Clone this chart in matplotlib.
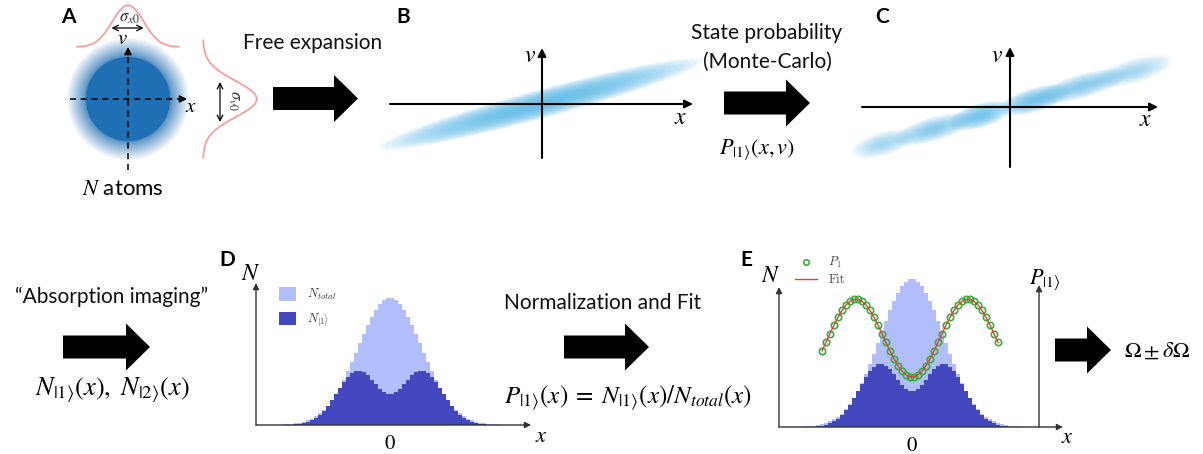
import numpy as np
import matplotlib
matplotlib.use('Agg')
import matplotlib.pyplot as plt
from matplotlib.patches import FancyArrow, Ellipse, Patch
from matplotlib.lines import Line2D
from matplotlib.font_manager import FontProperties

plt.rcParams['font.family'] = ['Lato', 'DejaVu Sans']
plt.rcParams['mathtext.fontset'] = 'stix'

W, H = 1203, 454

# ---------------- data ----------------
# marginal profile of panel A (relative height vs. offset in sigma)
profile_z = [-3.25, -3.0, -2.75, -2.5, -2.25, -2.0, -1.75, -1.5, -1.25, -1.0, -0.75, -0.5, -0.25,
             0.0, 0.25, 0.5, 0.75, 1.0, 1.25, 1.5, 1.75, 2.0, 2.25, 2.5, 2.75, 3.0, 3.25]
profile_g = [0.005, 0.011, 0.023, 0.044, 0.080, 0.135, 0.216, 0.325, 0.458, 0.607, 0.755, 0.882, 0.969,
             1.000, 0.969, 0.882, 0.755, 0.607, 0.458, 0.325, 0.216, 0.135, 0.080, 0.044, 0.023, 0.011, 0.005]

# panel A cloud: solid core radius and outer fringe radius (in sigma)
cloud_a_core, cloud_a_outer = 2.1, 3.05

# panel B band: sigma along / across the band (axis units) and slope dv/dx
band_sig_along, band_sig_across, band_slope = 0.58, 0.05, 0.27

# panel C: |1> selected clusters along the band (centre x, half-length, weight)
clus_x = [-1.27, -0.77, -0.30, 0.25, 0.72, 1.23]
clus_len = [0.22, 0.28, 0.22, 0.25, 0.32, 0.28]
clus_w = [0.45, 0.7, 1.0, 1.0, 0.7, 0.45]
c_slope = 0.29

# histograms (x in units of sigma)
hist_start, hist_stop, hist_nbins = -3.75, 3.75, 60
n_total = [0.1, 0.2, 0.3, 0.4, 0.6, 0.9, 1.3, 1.9, 2.7, 3.8, 5.1, 6.9, 9.1, 11.9, 15.3, 19.3, 24.1, 29.5,
           35.6, 42.3, 49.4, 56.9, 64.4, 71.9, 79.0, 85.4, 90.9, 95.2, 98.3, 99.8,
           99.8, 98.3, 95.2, 90.9, 85.4, 79.0, 71.9, 64.4, 56.9, 49.4, 42.3, 35.6, 29.5, 24.1, 19.3,
           15.3, 11.9, 9.1, 6.9, 5.1, 3.8, 2.7, 1.9, 1.3, 0.9, 0.6, 0.4, 0.3, 0.2, 0.1]
n_1 = [0.0, 0.0, 0.1, 0.1, 0.2, 0.3, 0.5, 0.9, 1.6, 2.5, 3.8, 5.7, 8.1, 11.2, 15.0, 19.3, 24.1, 28.9,
       33.5, 37.6, 40.6, 42.4, 42.7, 41.5, 39.0, 35.7, 31.9, 28.4, 25.7, 24.2,
       24.2, 25.7, 28.4, 31.9, 35.7, 39.0, 41.5, 42.7, 42.4, 40.6, 37.6, 33.5, 28.9, 24.1, 19.3,
       15.0, 11.2, 8.1, 5.7, 3.8, 2.5, 1.6, 0.9, 0.5, 0.3, 0.2, 0.1, 0.1, 0.0, 0.0]
# P1 points: bins 7..51
p1_first, p1_last = 7, 51
p1 = [0.495, 0.578, 0.663, 0.746, 0.822, 0.889, 0.942, 0.979, 0.998, 0.998, 0.979, 0.942, 0.889,
      0.822, 0.746, 0.663, 0.577, 0.494, 0.418, 0.351, 0.298, 0.261, 0.242,
      0.242, 0.261, 0.298, 0.351, 0.418, 0.494, 0.577, 0.663, 0.746, 0.822, 0.889, 0.942, 0.979,
      0.998, 0.998, 0.979, 0.942, 0.889, 0.822, 0.746, 0.663, 0.578]
p1_fit = p1

LIGHT = '#b0bffc'
DARK = '#4348bf'
CLOUD_A = '#1f6fb5'
CLOUD_B = '#5bbbe9'
PINK = '#f4a0a0'

# ---------------- figure ----------------
fig = plt.figure(figsize=(W / 100, H / 100), dpi=100)
ov = fig.add_axes([0, 0, 1, 1])
ov.set_xlim(0, W)
ov.set_ylim(H, 0)
ov.axis('off')


def px_axes(x0, y0, x1, y1):
    a = fig.add_axes([x0 / W, 1 - y1 / H, (x1 - x0) / W, (y1 - y0) / H])
    a.set_facecolor('none')
    a.axis('off')
    return a


def arrow(ax, tail, tip, color='k', lw=1.5, ms=12, **kw):
    ax.annotate('', xy=tip, xytext=tail,
                arrowprops=dict(arrowstyle='-|>', color=color, lw=lw, mutation_scale=ms,
                                shrinkA=0, shrinkB=0), **kw)


# big black arrows
for (x0, x1, yc) in [(273, 358, 98.5), (724, 810, 103), (63, 150, 347), (564, 649, 347), (1055, 1111, 350)]:
    ov.add_patch(FancyArrow(x0, yc, x1 - x0, 0, width=23, head_width=47, head_length=24,
                            length_includes_head=True, fc='k', ec='none'))

# panel letters
for lab, x, y in [('A', 68, 17), ('B', 403, 17), ('C', 882, 17), ('D', 227, 260), ('E', 746, 260)]:
    ov.text(x, y, lab, fontsize=15, fontweight='bold', ha='center', va='center')

TXT = dict(fontsize=15, ha='center', va='center', color='#111')
ov.text(313, 43, 'Free expansion', **TXT)
ov.text(767, 33, 'State probability', **TXT)
ov.text(767, 62, '(Monte-Carlo)', **TXT)
ov.text(757, 150, r'$P_{|1\rangle}(x,v)$', fontsize=16, ha='center', va='center')
ov.text(123, 189, r'$N$ atoms', fontsize=16, ha='center', va='center')
ov.text(112, 297, '\u201cAbsorption imaging\u201d', **TXT)
ov.text(112, 390, r'$N_{|1\rangle}(x),\ N_{|2\rangle}(x)$', fontsize=19, ha='center', va='center')
ov.text(603, 303, 'Normalization and Fit', **TXT)
ov.text(628, 398, r'$P_{|1\rangle}(x)\;=\;N_{|1\rangle}(x)/N_{total}(x)$', fontsize=18, ha='center', va='center')
ov.text(1157, 351, r'$\Omega \pm \delta\Omega$', fontsize=16, ha='center', va='center')

# ---------------- panel A ----------------
axA = px_axes(40, 0, 290, 200)
axA.set_xlim(-4.4, 8.1)
axA.set_ylim(-5.05, 4.95)
for t in np.linspace(1.0, 0.0, 30):
    r = cloud_a_core + (cloud_a_outer - cloud_a_core) * t ** 2
    axA.add_patch(Ellipse((0, 0), 2 * r, 2 * r, fc=CLOUD_A, ec='none', alpha=0.05))
axA.add_patch(Ellipse((0, 0), 2 * cloud_a_core, 2 * cloud_a_core, fc=CLOUD_A, ec='none', alpha=1.0))
zz = np.array(profile_z)
gg = np.array(profile_g)
axA.plot(0.78 * zz, 2.6 + 2.1 * gg, color=PINK, lw=1.3)
axA.plot(3.75 + 2.7 * gg, 0.9 * zz, color=PINK, lw=1.3)
axA.plot([-2.9, 2.8], [0, 0], color='k', lw=1.1, ls=(0, (4, 3)))
axA.plot([0, 0], [-3.55, 2.45], color='k', lw=1.1, ls=(0, (4, 3)))
arrow(axA, (2.6, 0), (2.95, 0), lw=1, ms=11)
arrow(axA, (0, 2.3), (0, 2.6), lw=1, ms=11)
axA.text(-0.3, 3.05, r'$v$', fontsize=15, ha='center', va='center')
axA.text(3.15, -0.35, r'$x$', fontsize=15, ha='center', va='center')
axA.annotate('', xy=(0.78, 3.55), xytext=(-0.82, 3.55),
             arrowprops=dict(arrowstyle='<->', lw=0.9, color='k', shrinkA=0, shrinkB=0))
axA.text(0.05, 4.05, r'$\sigma_{x0}$', fontsize=12, ha='center', va='center', color='#333')
axA.annotate('', xy=(4.6, 0.85), xytext=(4.6, -1.15),
             arrowprops=dict(arrowstyle='<->', lw=0.9, color='k', shrinkA=0, shrinkB=0))
axA.text(5.3, -0.05, r'$\sigma_{v0}$', fontsize=12, ha='center', va='center', rotation=-90, color='#333')

# ---------------- panel B ----------------
axB = px_axes(370, 40, 710, 165)
axB.set_xlim(-1.71, 1.69)
axB.set_ylim(-0.61, 0.64)
ang = np.degrees(np.arctan(band_slope))
for k in np.linspace(2.9, 0.5, 22):
    axB.add_patch(Ellipse((0, 0), 2 * k * band_sig_along, 2 * k * band_sig_across, angle=ang,
                          fc=CLOUD_B, ec='none', alpha=0.085))
arrow(axB, (-1.51, 0), (1.52, 0))
arrow(axB, (0.01, -0.54), (0.01, 0.56))
axB.text(-0.11, 0.49, r'$v$', fontsize=17, ha='center', va='center')
axB.text(1.40, -0.14, r'$x$', fontsize=17, ha='center', va='center')

# ---------------- panel C ----------------
axC = px_axes(845, 40, 1185, 170)
axC.set_xlim(-1.65, 1.75)
axC.set_ylim(-0.63, 0.67)
angc = np.degrees(np.arctan(c_slope))
for cx, hl, w in zip(clus_x, clus_len, clus_w):
    for k in np.linspace(2.4, 0.4, 14):
        axC.add_patch(Ellipse((cx, cx * c_slope), 2 * hl * k / 1.6, 2 * k * band_sig_across,
                              angle=angc, fc=CLOUD_B, ec='none', alpha=0.11 * w))
arrow(axC, (-1.48, 0), (1.48, 0))
arrow(axC, (0, -0.60), (0, 0.60))
axC.text(-0.13, 0.52, r'$v$', fontsize=17, ha='center', va='center')
axC.text(1.36, -0.12, r'$x$', fontsize=17, ha='center', va='center')

# ---------------- panel D ----------------
edges = np.linspace(hist_start, hist_stop, hist_nbins + 1)
centers = 0.5 * (edges[:-1] + edges[1:])
small_font = FontProperties(family='cmr10', size=9, math_fontfamily='cm')

axD = px_axes(256, 283, 531, 425)
axD.set_xlim(-4.1875, 4.406)
axD.set_ylim(0, 111.8)
axD.stairs(n_total, edges, fill=True, color=LIGHT)
axD.stairs(n_1, edges, fill=True, color=DARK)
arrow(axD, (0, 0), (1, 0), color='#333', lw=1.0, ms=9, xycoords='axes fraction', textcoords='axes fraction')
arrow(axD, (0, 0), (0, 1), color='#333', lw=1.0, ms=9, xycoords='axes fraction', textcoords='axes fraction')
axD.text(0, -0.13, r'$0$', fontsize=15, ha='center', va='center', transform=axD.get_xaxis_transform())
ov.text(251, 274, r'$N$', fontsize=17, ha='center', va='center')
ov.text(541, 436, r'$x$', fontsize=16, ha='center', va='center')
legD = axD.legend(handles=[Patch(fc=LIGHT), Patch(fc=DARK)],
                  labels=[r'$N_{total}$', r'$N_{|1\rangle}$'], prop=small_font,
                  loc='upper left', bbox_to_anchor=(0.085, 0.97), frameon=False,
                  handlelength=1.3, handleheight=1.3, labelspacing=0.75, handletextpad=0.9,
                  borderpad=0, borderaxespad=0)
for t in legD.get_texts():
    t.set_color('#333')

# ---------------- panel E ----------------
axE = px_axes(779, 265, 1063, 427)
axE.set_xlim(-4.156, 4.719)
axE.set_ylim(0, 109.5)
axE.stairs(n_total, edges, fill=True, color=LIGHT)
axE.stairs(n_1, edges, fill=True, color=DARK)
arrow(axE, (0, 0), (1, 0), color='#333', lw=1.0, ms=9, xycoords='axes fraction', textcoords='axes fraction')
arrow(axE, (-4.156, 0), (-4.156, 94.6), color='#333', lw=1.0, ms=9)
arrow(axE, (3.97, 0), (3.97, 95.9), color='#333', lw=1.0, ms=9)
axE.text(0, -0.11, r'$0$', fontsize=15, ha='center', va='center', transform=axE.get_xaxis_transform())
ov.text(771, 276, r'$N$', fontsize=17, ha='center', va='center')
ov.text(1067, 437, r'$x$', fontsize=16, ha='center', va='center')
ov.text(1045, 280, r'$P_{|1\rangle}$', fontsize=16, ha='center', va='center')

tw = axE.twinx()
tw.set_ylim(-0.247, 1.332)
tw.axis('off')
px = centers[p1_first:p1_last + 1]
tw.plot(px, p1, ls='none', marker='o', ms=4.6, mfc='none', mec='#3aad3a', mew=1.2, zorder=3)
tw.plot(px, p1_fit, color='#e2403a', lw=1.0, zorder=4)
legE = axE.legend(handles=[Line2D([], [], ls='none', marker='o', ms=4, mfc='none', mec='#3aad3a', mew=1.2),
                           Line2D([], [], color='#e2403a', lw=1.0)],
                  labels=[r'$P_1$', 'Fit'], prop=small_font, loc='upper left',
                  bbox_to_anchor=(0.055, 1.06), frameon=False, handlelength=1.8,
                  labelspacing=0.3, handletextpad=0.9, borderpad=0, borderaxespad=0)
for t in legE.get_texts():
    t.set_color('#444')

fig.savefig('out.png', dpi=100)
